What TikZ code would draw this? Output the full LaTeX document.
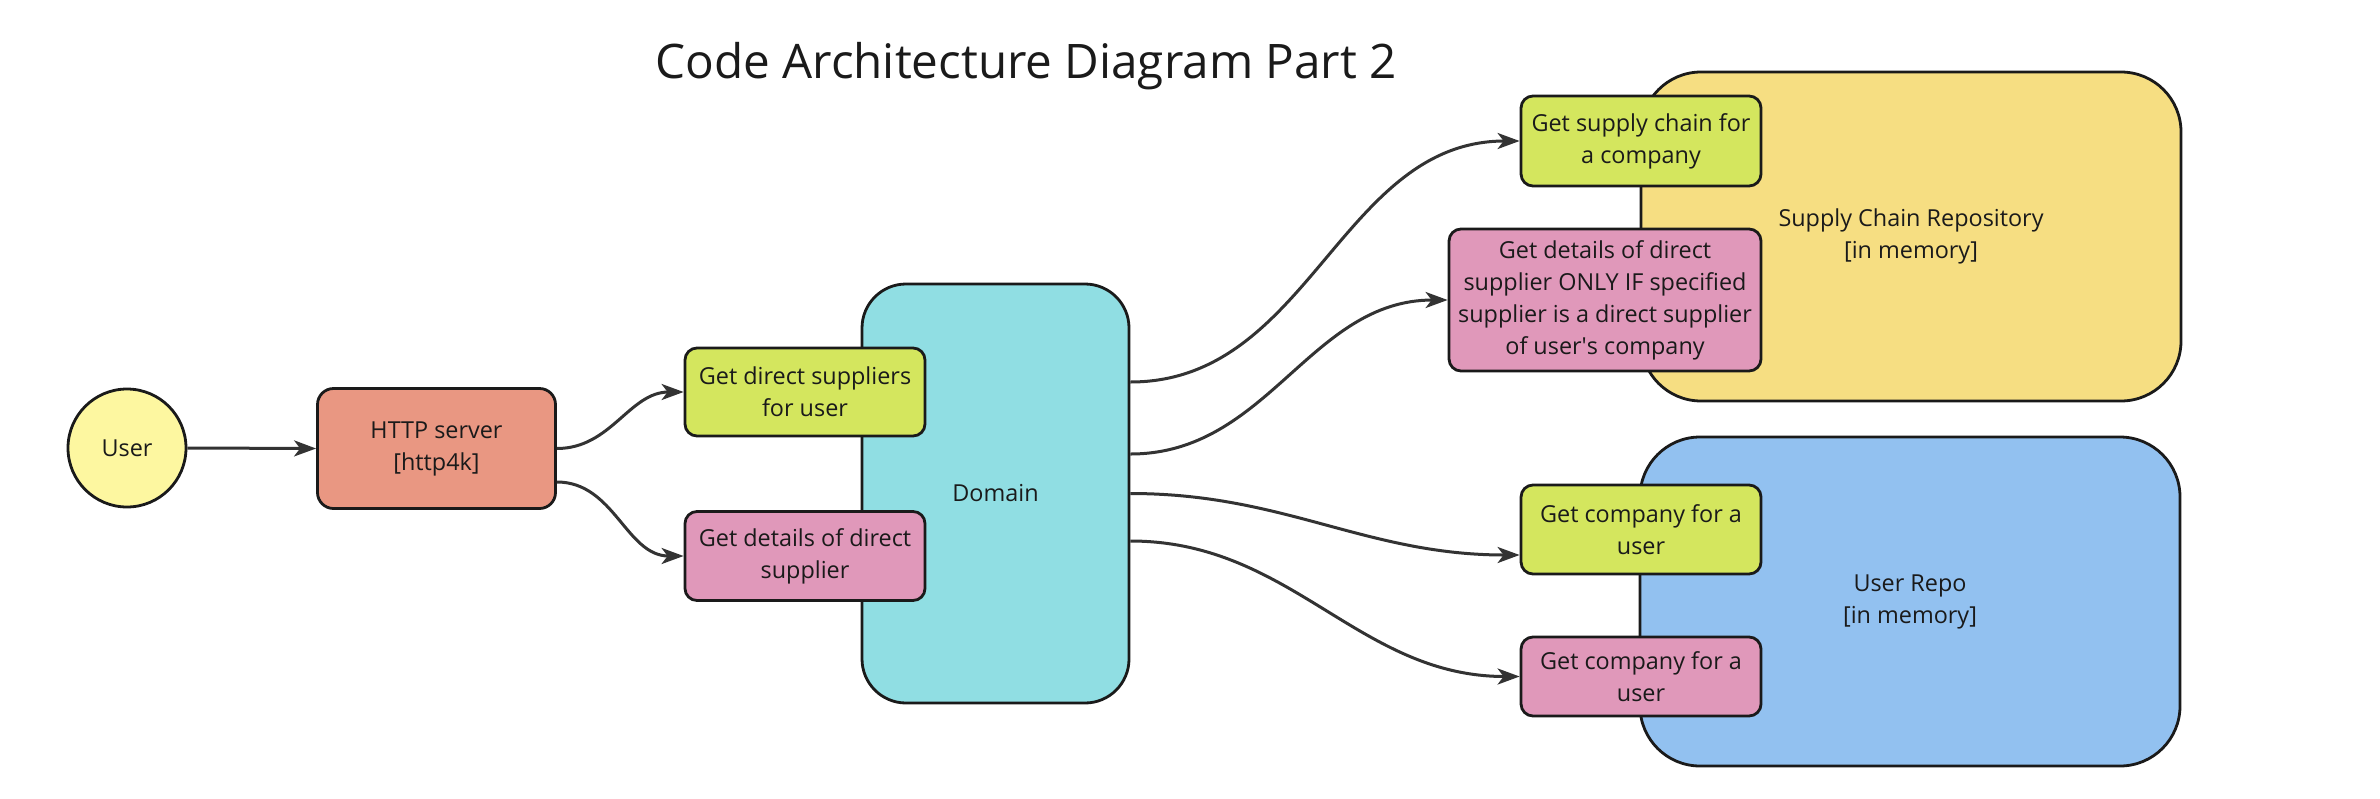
\documentclass[tikz,border=0pt]{standalone}
\usepackage{fontspec}
\setmainfont{Open Sans}
\usetikzlibrary{arrows.meta}
\definecolor{boxyellow}{RGB}{253, 247, 160}
\definecolor{boxsalmon}{RGB}{233, 151, 130}
\definecolor{boxgreen}{RGB}{212, 230, 94}
\definecolor{boxpink}{RGB}{224, 152, 186}
\definecolor{boxcyan}{RGB}{144, 222, 227}
\definecolor{boxgold}{RGB}{246, 222, 130}
\definecolor{boxblue}{RGB}{146, 193, 240}
\definecolor{lineblack}{RGB}{26, 26, 26}
\definecolor{arrowgrey}{RGB}{51, 51, 51}

\begin{document}
\begin{tikzpicture}[x=0.5pt, y=-0.5pt,
  box/.style={draw=lineblack, line width=1.4pt, rounded corners=6pt, align=center,
    inner sep=0pt, text=lineblack, font=\fontsize{11.7}{16}\selectfont},
  smallbox/.style={box, minimum width=120pt},
  repo/.style={box, minimum width=270pt, minimum height=164.5pt, rounded corners=30pt},
  flow/.style={draw=arrowgrey, line width=1.5pt, -{Stealth[length=11pt, width=8pt, inset=3pt]}}]
\useasboundingbox (0,0) rectangle (2380,798);

% title
\node[font=\fontsize{23.8}{28}\selectfont, text=lineblack] (title) at (1026,66) {Code Architecture Diagram Part 2};

% left side
\node[box, circle, fill=boxyellow, minimum size=59pt] (user) at (127,448) {User};
\node[box, fill=boxsalmon, minimum width=119pt, minimum height=60pt, rounded corners=8pt] (http) at (436.5,448.5) {HTTP server\\{}[http4k]};

% domain
\node[box, fill=boxcyan, minimum width=133.5pt, minimum height=209.5pt, rounded corners=22pt] (domain) at (995.5,493.5) {Domain};
\node[smallbox, fill=boxgreen, minimum height=44pt] (dsup) at (805,392) {Get direct suppliers\\for user};
\node[smallbox, fill=boxpink, minimum height=44.5pt] (ddet) at (805,556) {Get details of direct\\supplier};

% repositories
\node[repo, fill=boxgold] (screpo) at (1911,236.5) {Supply Chain Repository\\{}[in memory]};
\node[repo, fill=boxblue] (urepo) at (1910,601.5) {User Repo\\{}[in memory]};
\node[smallbox, fill=boxgreen, minimum height=45pt] (chain) at (1641,141) {Get supply chain for\\a company};
\node[box, fill=boxpink, minimum width=156pt, minimum height=71pt] (only) at (1605,300) {Get details of direct\\supplier ONLY IF specified\\supplier is a direct supplier\\of user\textquotesingle s company};
\node[smallbox, fill=boxgreen, minimum height=44.5pt] (ucompa) at (1641,529.5) {Get company for a\\user};
\node[smallbox, fill=boxpink, minimum height=39.5pt] (ucompb) at (1641,676.5) {Get company for a\\user};

% connectors
\draw[flow] (user.east) -- (http.west);
\draw[flow] (http.east) to[out=0, in=180] (dsup.west);
\draw[flow] ([yshift=-16.75pt]http.east) to[out=0, in=180] (ddet.west);
\draw[flow] ([yshift=55.75pt]domain.east) to[out=0, in=180] (chain.west);
\draw[flow] ([yshift=19.75pt]domain.east) to[out=0, in=180] (only.west);
\draw[flow] (domain.east) to[out=0, in=180] ([yshift=-12.75pt]ucompa.west);
\draw[flow] ([yshift=-23.75pt]domain.east) to[out=0, in=180] (ucompb.west);
\end{tikzpicture}
\end{document}
